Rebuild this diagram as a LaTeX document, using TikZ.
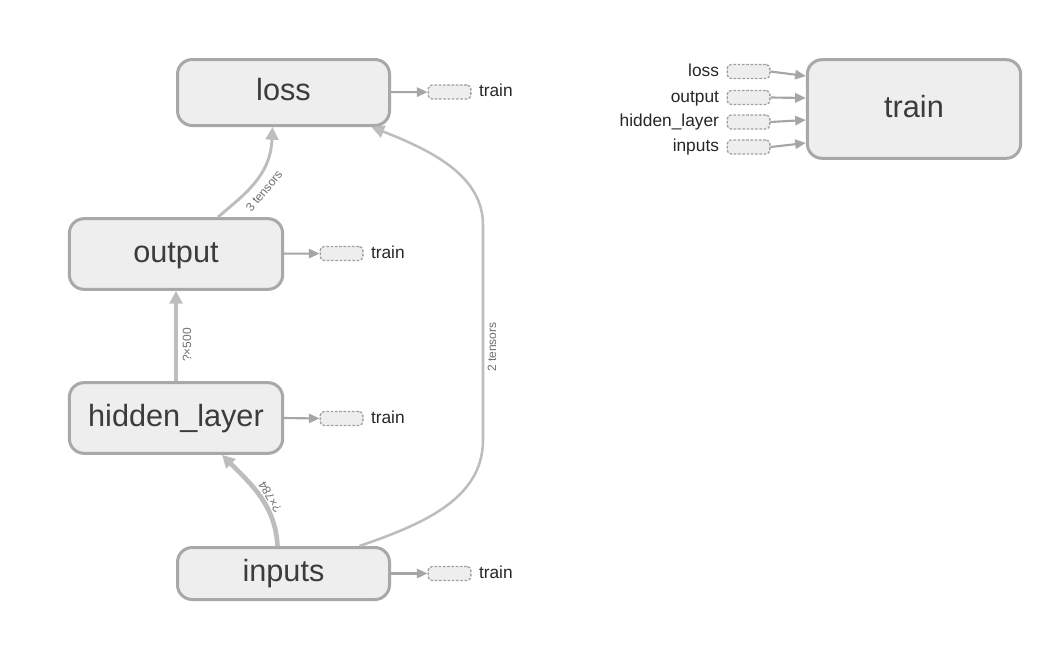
\documentclass[tikz,border=0pt]{standalone}
\usepackage{fontspec}
\setmainfont{Liberation Sans}
\usetikzlibrary{arrows.meta,calc}
\definecolor{opfill}{HTML}{EEEEEE}
\definecolor{opline}{HTML}{A8A8A8}
\definecolor{edgeline}{HTML}{BDBDBD}
\definecolor{stubline}{HTML}{A6A6A6}
\definecolor{stubdash}{HTML}{A0A0A0}
\definecolor{optext}{HTML}{3C3C3C}
\definecolor{lbltext}{HTML}{6E6E6E}
\tikzset{every picture/.style={line width=0.75pt}}

\begin{document}
\begin{tikzpicture}[x=0.75pt,y=0.75pt,yscale=-1,xscale=1,
  opnode/.style={draw=opline, line width=2.25pt, fill=opfill, rounded corners=11pt, text=optext, font=\fontsize{23}{26}\selectfont, inner sep=0pt, text height=17pt, text depth=5pt},
  stub/.style={draw=stubdash, dash pattern=on 2pt off 1.2pt, line width=1pt, fill=opfill, rounded corners=3pt, minimum width=32pt, minimum height=10.5pt, inner sep=0pt},
  stublbl/.style={font=\fontsize{13}{15}\selectfont, text=black!85, inner sep=0.75pt, text height=9.5pt, text depth=2.7pt},
  flow/.style={draw=edgeline, -{Triangle[length=9.5pt,width=9.5pt]}},
  stubarrow/.style={draw=stubline, line width=1.6pt, -{Triangle[length=8pt,width=7pt]}},
  tensorlbl/.style={font=\fontsize{9}{10}\selectfont, text=lbltext, inner sep=0.75pt}]
\useasboundingbox (0,0) rectangle (1064,644);

% main graph
\node[opnode, minimum width=159pt, minimum height=49.5pt] (loss) at (283.5,92.5) {loss};
\node[opnode, minimum width=160pt, minimum height=53pt] (output) at (176,254) {output};
\node[opnode, minimum width=160pt, minimum height=53pt] (hidden) at (176,418) {hidden\_layer};
\node[opnode, minimum width=159pt, minimum height=39pt] (inputs) at (283.5,573.5) {inputs};

% control dependency stubs
\node[stub] (lossstub) at (449.5,92) {};
\node[stub] (outputstub) at (341.5,253.5) {};
\node[stub] (hiddenstub) at (341.5,418.5) {};
\node[stub] (inputsstub) at (449.5,573.5) {};
\node[stublbl, anchor=west] (losstrain) at ($(lossstub.east)+(6,0)$) {train};
\node[stublbl, anchor=west] (outputtrain) at ($(outputstub.east)+(6,0)$) {train};
\node[stublbl, anchor=west] (hiddentrain) at ($(hiddenstub.east)+(6,0)$) {train};
\node[stublbl, anchor=west] (inputstrain) at ($(inputsstub.east)+(6,0)$) {train};
\draw[stubarrow] (loss) -- (lossstub);
\draw[stubarrow] (output) -- (outputstub);
\draw[stubarrow] (hidden.east) -- (hiddenstub.west);
\draw[stubarrow] (inputs) -- (inputsstub);

% data flow
\draw[flow, line width=2.2pt] ($(output.north)+(42,0)$) .. controls +(25,-22) and +(-2,50) .. ($(loss.south)+(-11,0)$);
\draw[flow, line width=3pt] (hidden) -- (output);
\draw[flow, line width=3.5pt] ($(inputs.north)+(-6,0)$) .. controls +(-2,-40) and +(30,30) .. ($(hidden.south)+(46,0)$);
\coordinate (bendlow) at (483,440);
\coordinate (bendhigh) at (483,225);
\draw[flow, line width=1.9pt] ($(inputs.north)+(76,0)$) .. controls (420,525) and (483,500) .. (bendlow) -- (bendhigh) .. controls (483,175) and (430,150) .. ($(loss.south)+(88,0)$);

\node[tensorlbl, rotate=50] (lblthree) at (264,191) {3 tensors};
\node[tensorlbl, rotate=90] (lblfivehundred) at (187,345) {?\texttimes500};
\node[tensorlbl, rotate=120] (lblseveneightyfour) at (270,497) {?\texttimes784};
\node[tensorlbl, rotate=90] (lbltwo) at (492,347) {2 tensors};

% train op
\node[opnode, minimum width=160pt, minimum height=74pt] (train) at (914,109) {train};
\node[stub] (inloss) at (748.5,71.5) {};
\node[stub] (inoutput) at (748.5,97.5) {};
\node[stub] (inhidden) at (748.5,122) {};
\node[stub] (ininputs) at (748.5,147) {};
\node[stublbl, anchor=east] (inlosslbl) at ($(inloss.west)+(-6,0)$) {loss};
\node[stublbl, anchor=east] (inoutputlbl) at ($(inoutput.west)+(-6,0)$) {output};
\node[stublbl, anchor=east] (inhiddenlbl) at ($(inhidden.west)+(-6,0)$) {hidden\_layer};
\node[stublbl, anchor=east] (ininputslbl) at ($(ininputs.west)+(-6,0)$) {inputs};
\draw[stubarrow] (inloss.east) -- ($(train.west)+(0,-33)$);
\draw[stubarrow] (inoutput.east) -- ($(train.west)+(0,-11)$);
\draw[stubarrow] (inhidden.east) -- ($(train.west)+(0,11)$);
\draw[stubarrow] (ininputs.east) -- ($(train.west)+(0,34)$);

\end{tikzpicture}
\end{document}
